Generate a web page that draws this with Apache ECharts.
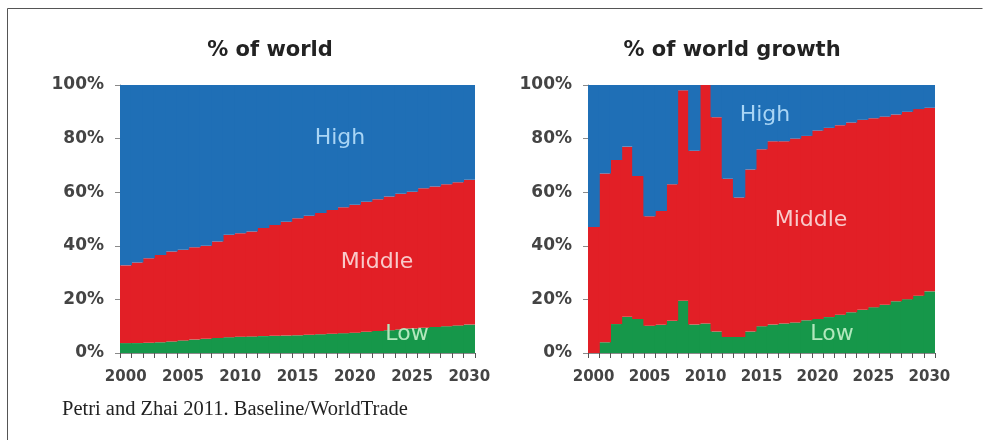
<!DOCTYPE html>
<html>
<head>
<meta charset="utf-8">
<script src="https://cdn.jsdelivr.net/npm/echarts@6/dist/echarts.min.js"></script>
<style>
html,body{margin:0;padding:0;background:#fff;}
#chart{width:991px;height:440px;}
</style>
</head>
<body>
<div id="chart"></div>
<script>
// Categories (years)
var years = ['2000','2001','2002','2003','2004','2005','2006','2007','2008','2009','2010',
             '2011','2012','2013','2014','2015','2016','2017','2018','2019','2020',
             '2021','2022','2023','2024','2025','2026','2027','2028','2029','2030'];
var yTicks = ['0%','20%','40%','60%','80%','100%'];

// Left panel: % of world
var worldLow    = [3.7,3.7,3.8,4.0,4.3,4.7,5.0,5.3,5.6,5.9,6.1,6.2,6.3,6.4,6.5,6.6,6.8,7.0,7.2,7.4,7.6,7.9,8.2,8.5,8.8,9.1,9.4,9.7,10.0,10.3,10.6];
var worldMiddle = [29.0,30.1,31.6,32.6,33.6,33.8,34.5,34.7,36.0,38.2,38.6,39.1,40.3,41.4,42.5,43.7,44.4,45.2,46.2,47.0,47.7,48.5,49.2,49.9,50.6,51.1,52.1,52.4,53.0,53.4,54.0];
var worldHigh   = [67.3,66.2,64.6,63.4,62.1,61.5,60.5,60.0,58.4,55.9,55.3,54.7,53.4,52.2,51.0,49.7,48.8,47.8,46.6,45.6,44.7,43.6,42.6,41.6,40.6,39.8,38.5,37.9,37.0,36.3,35.4];

// Right panel: % of world growth
var growthLow    = [0,4,10.8,13.5,12.7,10.2,10.5,12,19.5,10.6,11,8,6,6,8,10,10.6,11,11.4,12.2,12.7,13.4,14.3,15.2,16.1,17.1,18,19.3,20.1,21.4,23];
var growthMiddle = [47,63,61.2,63.5,53.3,40.8,42.5,51,78.5,64.9,89,80,59,52,60.5,66,68.4,68,68.6,68.8,70.3,70.6,70.7,70.8,70.9,70.5,70.2,69.7,69.9,69.6,68.5];
var growthHigh   = [53,33,28,23,34,49,47,37,2,24.5,0,12,35,42,31.5,24,21,21,20,19,17,16,15,14,13,12.4,11.8,11,10,9,8.5];

var COL = {low:'#16974a', middle:'#e21f26', high:'#1f6fb6'};
var axisGray = '#8a8a8a';
var labelFont = 'DejaVu Sans';

function xAxisOf(idx){
  return {
    type:'category', gridIndex:idx, data:years, boundaryGap:true,
    axisLine:{show:true, lineStyle:{color:axisGray, width:1}},
    axisTick:{show:true, interval:0, length:5, lineStyle:{color:'#555'}},
    axisLabel:{interval:4, margin:17, color:'#444', fontFamily:labelFont, fontWeight:'bold', fontSize:15},
    splitLine:{show:false}
  };
}
function yAxisOf(idx){
  return {
    type:'value', gridIndex:idx, min:0, max:100, interval:20,
    axisLine:{show:true, lineStyle:{color:axisGray}},
    axisTick:{show:true, length:5, lineStyle:{color:axisGray}},
    axisLabel:{margin:16, color:'#444', fontFamily:labelFont, fontWeight:'bold', fontSize:17,
      formatter:function(v){ return yTicks[Math.round(v/20)]; }},
    splitLine:{show:false}
  };
}
function barSeries(name, data, idx, color){
  return {
    name:name, type:'bar', stack:'s'+idx, xAxisIndex:idx, yAxisIndex:idx,
    data:data, barWidth:12.4,
    itemStyle:{color:color},
    emphasis:{disabled:true}, animation:false
  };
}
function txt(t, x, y, color, size, weight, family){
  return {type:'text', x:x, y:y, silent:true, z:100,
    style:{text:t, fill:color, font:(weight||'normal')+' '+size+'px "'+(family||labelFont)+'"', align:'center', verticalAlign:'middle'}};
}

var chart = echarts.init(document.getElementById('chart'), null, {renderer:'canvas'});
chart.setOption({
  backgroundColor:'#ffffff',
  animation:false,
  grid:[
    {left:120, top:85, width:355, height:268},
    {left:588, top:85, width:347, height:268}
  ],
  xAxis:[xAxisOf(0), xAxisOf(1)],
  yAxis:[yAxisOf(0), yAxisOf(1)],
  series:[
    barSeries('Low', worldLow, 0, COL.low),
    barSeries('Middle', worldMiddle, 0, COL.middle),
    barSeries('High', worldHigh, 0, COL.high),
    barSeries('Low', growthLow, 1, COL.low),
    barSeries('Middle', growthMiddle, 1, COL.middle),
    barSeries('High', growthHigh, 1, COL.high)
  ],
  graphic:[
    {type:'line', silent:true, shape:{x1:7.5, y1:8.5, x2:7.5, y2:440}, style:{stroke:'#555', lineWidth:1}},
    {type:'line', silent:true, shape:{x1:7.5, y1:8.5, x2:982.5, y2:8.5}, style:{stroke:'#555', lineWidth:1}},
    txt('% of world', 270, 51, '#222', 21, 'bold'),
    txt('% of world growth', 732, 51, '#222', 21, 'bold'),
    txt('High', 340, 138, '#a9d5f5', 22),
    txt('Middle', 377, 262, '#f8caca', 22),
    txt('Low', 407, 334, '#b2e8bd', 22),
    txt('High', 765, 115, '#a9d5f5', 22),
    txt('Middle', 811, 220, '#f8caca', 22),
    txt('Low', 832, 334, '#b2e8bd', 22),
    {type:'text', x:62, y:410, silent:true,
      style:{text:'Petri and Zhai 2011. Baseline/WorldTrade', fill:'#222', font:'normal 20.5px "Liberation Serif"', align:'left', verticalAlign:'middle'}}
  ]
});
</script>
</body>
</html>
